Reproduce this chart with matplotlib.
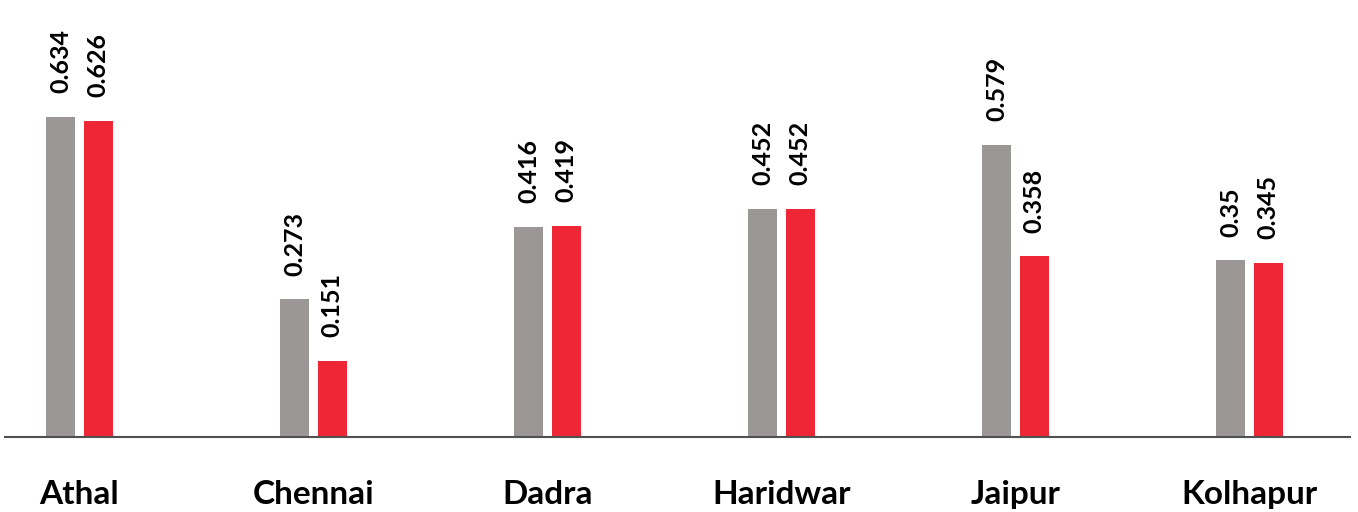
import numpy as np
import matplotlib.pyplot as plt

plt.rcParams['font.family'] = ['Lato', 'DejaVu Sans']

cities = ['Athal', 'Chennai', 'Dadra', 'Haridwar', 'Jaipur', 'Kolhapur']
grey_vals = [0.634, 0.273, 0.416, 0.452, 0.579, 0.35]
red_vals = [0.626, 0.151, 0.419, 0.452, 0.358, 0.345]
grey_labels = ['0.634', '0.273', '0.416', '0.452', '0.579', '0.35']
red_labels = ['0.626', '0.151', '0.419', '0.452', '0.358', '0.345']

grey = '#9b9796'
red = '#ee2636'

fig = plt.figure(figsize=(13.58, 5.12), dpi=100)
ax = fig.add_axes([5/1358, 75/512, 1345/1358, 437/512])

x = np.arange(len(cities))
w = 0.124
off = 0.081
ax.bar(x - off, grey_vals, w, color=grey)
ax.bar(x + off, red_vals, w, color=red)

for xi, v, s in zip(x - off, grey_vals, grey_labels):
    ax.annotate(s, (xi, v), xytext=(0, 17), textcoords='offset points',
                rotation=90, ha='center', va='bottom', fontsize=18, fontweight='bold')
for xi, v, s in zip(x + off, red_vals, red_labels):
    ax.annotate(s, (xi, v), xytext=(0, 17), textcoords='offset points',
                rotation=90, ha='center', va='bottom', fontsize=18, fontweight='bold')

ax.set_xlim(-0.318, 5.43)
ax.set_ylim(0, 0.866)
ax.set_xticks(x)
ax.set_xticklabels(cities, fontsize=24, fontweight='bold')
ax.tick_params(axis='x', length=0, pad=31)
ax.set_yticks([])
for sp in ['top', 'right', 'left']:
    ax.spines[sp].set_visible(False)
ax.spines['bottom'].set_color('#505050')
ax.spines['bottom'].set_linewidth(1.5)

fig.savefig('out.png', dpi=100)
